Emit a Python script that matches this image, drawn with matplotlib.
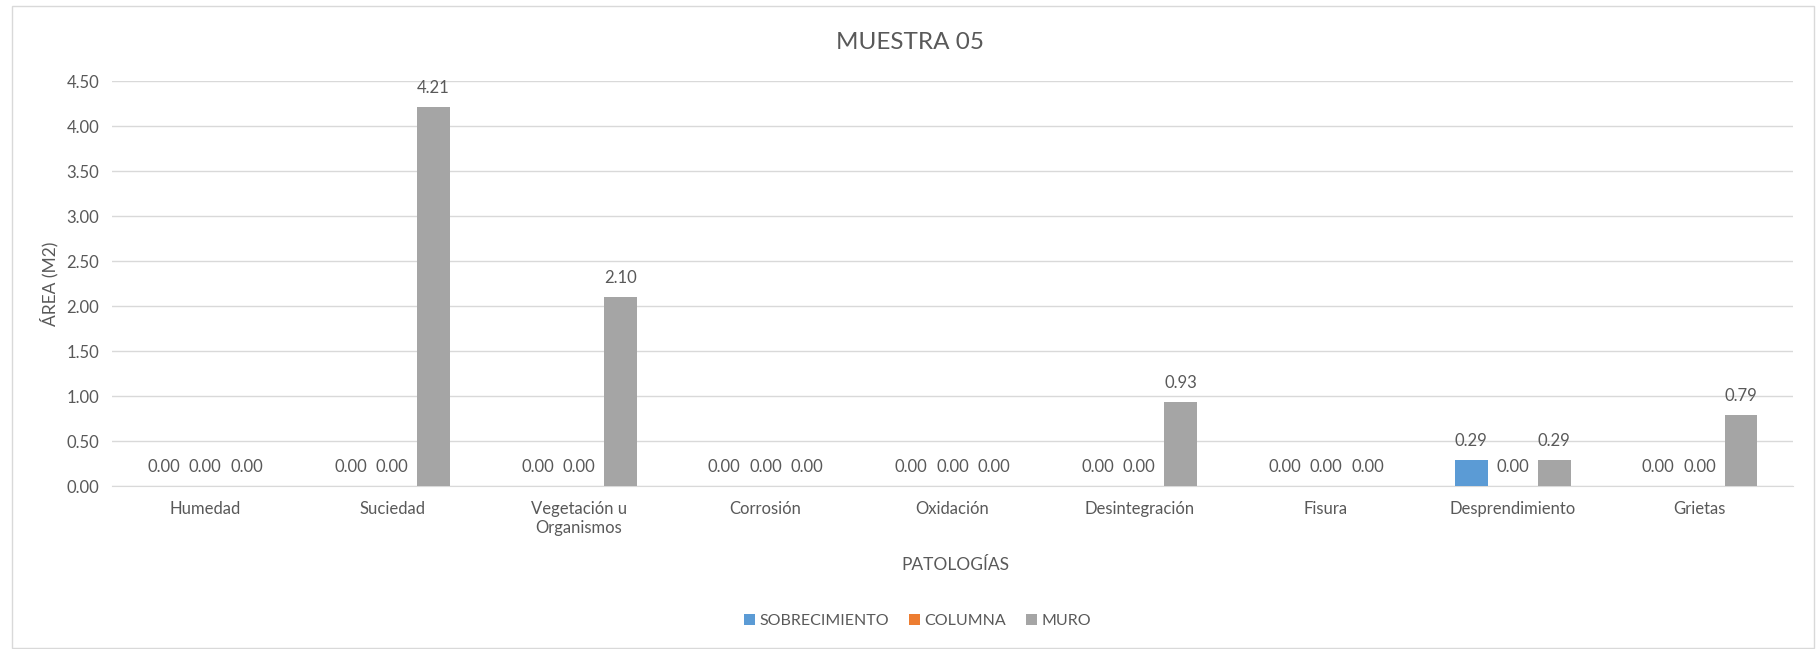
import numpy as np
import matplotlib.pyplot as plt
from matplotlib.patches import Rectangle

plt.rcParams['font.family'] = ['Lato', 'DejaVu Sans']

categories = ["Humedad", "Suciedad", "Vegetación u\nOrganismos", "Corrosión", "Oxidación",
              "Desintegración", "Fisura", "Desprendimiento", "Grietas"]
sobrecimiento = [0.00, 0.00, 0.00, 0.00, 0.00, 0.00, 0.00, 0.29, 0.00]
columna = [0.00, 0.00, 0.00, 0.00, 0.00, 0.00, 0.00, 0.00, 0.00]
muro = [0.00, 4.21, 2.10, 0.00, 0.00, 0.93, 0.00, 0.29, 0.79]
series = [("SOBRECIMIENTO", sobrecimiento, "#5B9BD5"),
          ("COLUMNA", columna, "#ED7D31"),
          ("MURO", muro, "#A5A5A5")]

txt = "#595959"
fig = plt.figure(figsize=(18.17, 6.49), dpi=100)
ax = fig.add_axes([0.0616, 0.251, 0.9252, 0.624])

x = np.arange(len(categories))
step = 0.222
width = 0.175
handles = []
for i, (name, vals, col) in enumerate(series):
    pos = x + (i - 1) * step
    b = ax.bar(pos, vals, width, color=col, label=name, zorder=3)
    handles.append(b)
    for p, v in zip(pos, vals):
        ax.annotate(f"{v:.2f}", (p, v), xytext=(0, 14), textcoords="offset points",
                    ha="center", va="center", fontsize=12, color=txt)

ax.set_xlim(-0.5, len(categories) - 0.5)
ax.set_ylim(0, 4.5)
ax.set_yticks(np.arange(0, 4.51, 0.5))
ax.set_yticklabels([f"{t:.2f}" for t in np.arange(0, 4.51, 0.5)])
ax.set_xticks(x)
ax.set_xticklabels(categories)
ax.tick_params(axis="both", length=0, labelsize=12, colors=txt)
ax.tick_params(axis="x", pad=11)
ax.tick_params(axis="y", pad=9)
ax.grid(axis="y", color="#D9D9D9", linewidth=1, zorder=0)
for s in ("top", "right", "left"):
    ax.spines[s].set_visible(False)
ax.spines["bottom"].set_color("#D9D9D9")

fig.text(0.501, 0.934, "MUESTRA 05", ha="center", va="center", fontsize=17.5, color=txt)
fig.text(0.027, 0.563, "ÁREA (M2)", ha="center", va="center", rotation=90, fontsize=12.5, color=txt)
fig.text(0.526, 0.13, "PATOLOGÍAS", ha="center", va="center", fontsize=12.5, color=txt)
fig.legend(handles=handles, loc="center", bbox_to_anchor=(0.505, 0.043), ncol=3, frameon=False,
           fontsize=11.5, labelcolor=txt, handlelength=0.7, handleheight=0.7, columnspacing=1.2,
           handletextpad=0.3)

fig.patches.append(Rectangle((12 / 1817, 0.002), 1802 / 1817, 1 - 6 / 649 - 0.002,
                             transform=fig.transFigure, fill=False, edgecolor="#D9D9D9", linewidth=1))

fig.savefig("out.png", dpi=100)
